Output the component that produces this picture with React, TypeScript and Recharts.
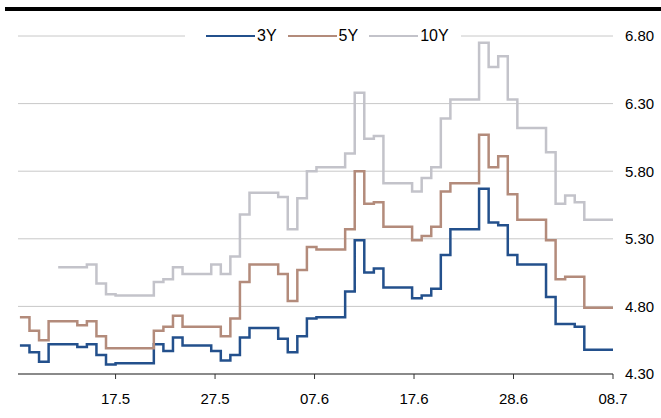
import React from 'react';
import { LineChart, Line, XAxis, YAxis, CartesianGrid } from 'recharts';

// daily closes, one value per calendar day (weekends carry the last close)
const yield3Y = [
  4.51, 4.46, 4.39, 4.52, 4.52, 4.52, 4.50, 4.52, 4.44, 4.37,
  4.38, 4.38, 4.38, 4.38, 4.52, 4.47, 4.57, 4.51, 4.51, 4.51,
  4.47, 4.40, 4.44, 4.57, 4.64, 4.64, 4.64, 4.56, 4.46, 4.58,
  4.71, 4.72, 4.72, 4.72, 4.91, 5.29, 5.05, 5.08, 4.94, 4.94,
  4.94, 4.86, 4.88, 4.93, 5.18, 5.37, 5.37, 5.37, 5.67, 5.42,
  5.40, 5.18, 5.11, 5.11, 5.11, 4.87, 4.67, 4.67, 4.65, 4.48,
  4.48, 4.48, 4.48,
];
const yield5Y = [
  4.72, 4.62, 4.55, 4.69, 4.69, 4.69, 4.66, 4.69, 4.58, 4.49,
  4.49, 4.49, 4.49, 4.49, 4.62, 4.65, 4.73, 4.65, 4.65, 4.65,
  4.65, 4.58, 4.71, 4.98, 5.11, 5.11, 5.11, 5.04, 4.84, 5.07,
  5.24, 5.22, 5.22, 5.22, 5.37, 5.80, 5.56, 5.57, 5.39, 5.39,
  5.39, 5.29, 5.32, 5.39, 5.65, 5.71, 5.71, 5.71, 6.07, 5.83,
  5.91, 5.63, 5.44, 5.44, 5.44, 5.29, 5.00, 5.02, 5.02, 4.79,
  4.79, 4.79, 4.79,
];
const yield10Y = [
  null, null, null, null, 5.09, 5.09, 5.09, 5.11, 4.97, 4.89,
  4.88, 4.88, 4.88, 4.88, 4.98, 5.00, 5.09, 5.04, 5.04, 5.04,
  5.11, 5.04, 5.17, 5.48, 5.64, 5.64, 5.64, 5.61, 5.37, 5.60,
  5.80, 5.83, 5.83, 5.83, 5.93, 6.38, 6.04, 6.06, 5.71, 5.71,
  5.71, 5.65, 5.75, 5.83, 6.19, 6.33, 6.33, 6.33, 6.75, 6.57,
  6.65, 6.33, 6.12, 6.12, 6.12, 5.94, 5.56, 5.62, 5.57, 5.44,
  5.44, 5.44, 5.44,
];

const dateLabels = ['17.5', '27.5', '07.6', '17.6', '28.6', '08.7'];
const dateTicks = [10, 20.4, 30.8, 41.2, 51.6, 62];
const yTicks = [4.3, 4.8, 5.3, 5.8, 6.3, 6.8];

const series = [
  { key: 'y3', name: '3Y', color: '#23508c' },
  { key: 'y5', name: '5Y', color: '#b38b7b' },
  { key: 'y10', name: '10Y', color: '#c3c3ca' },
];

const rows = yield3Y.map((v, i) => ({
  day: i,
  y3: v,
  y5: yield5Y[i],
  y10: yield10Y[i],
}));

const FONT = '"Liberation Sans", Arial, sans-serif';

export default function App() {
  return (
    <div style={{ position: 'absolute', left: 0, top: 0, width: 661, height: 418, background: '#fff', fontFamily: FONT }}>
      {/* heavy rule above the chart */}
      <div style={{ position: 'absolute', left: 5, top: 7, width: 656, height: 4, background: '#000' }} />

      <LineChart width={661} height={418} data={rows} margin={{ top: 36, right: 0, bottom: 0, left: 18 }}>
        <CartesianGrid vertical={false} stroke="#c8c8c8" strokeWidth={1} />
        <XAxis
          type="number"
          dataKey="day"
          domain={[-0.2, 62]}
          allowDataOverflow
          ticks={dateTicks}
          interval={0}
          tickFormatter={(v: number) => dateLabels[dateTicks.indexOf(v)] ?? ''}
          height={44}
          axisLine={{ stroke: '#8a8a8a', strokeWidth: 2 }}
          tickLine={{ stroke: '#333' }}
          tickSize={5}
          tickMargin={14}
          tick={{ fontSize: 15, fill: '#000', fontFamily: FONT }}
        />
        <YAxis
          orientation="right"
          domain={[4.3, 6.8]}
          ticks={yTicks}
          interval={0}
          tickFormatter={(v: number) => v.toFixed(2)}
          width={48}
          axisLine={false}
          tickLine={false}
          tickMargin={6}
          tick={{ fontSize: 15, fill: '#000', fontFamily: FONT }}
        />
        {series.map((s) => (
          <Line
            key={s.key}
            type="stepAfter"
            dataKey={s.key}
            stroke={s.color}
            strokeWidth={2.5}
            dot={false}
            activeDot={false}
            isAnimationActive={false}
          />
        ))}
      </LineChart>

      {/* legend sits on the top gridline */}
      <div
        style={{
          position: 'absolute',
          left: 185,
          top: 26,
          width: 276,
          height: 20,
          background: '#fff',
          display: 'flex',
          alignItems: 'center',
          paddingLeft: 21,
          boxSizing: 'border-box',
          gap: 11,
          fontSize: 16,
          color: '#000',
        }}
      >
        {series.map((s) => (
          <div key={s.key} style={{ display: 'flex', alignItems: 'center' }}>
            <span style={{ display: 'inline-block', width: 49, height: 2.5, background: s.color }} />
            <span style={{ marginLeft: 2, lineHeight: '20px' }}>{s.name}</span>
          </div>
        ))}
      </div>
    </div>
  );
}
